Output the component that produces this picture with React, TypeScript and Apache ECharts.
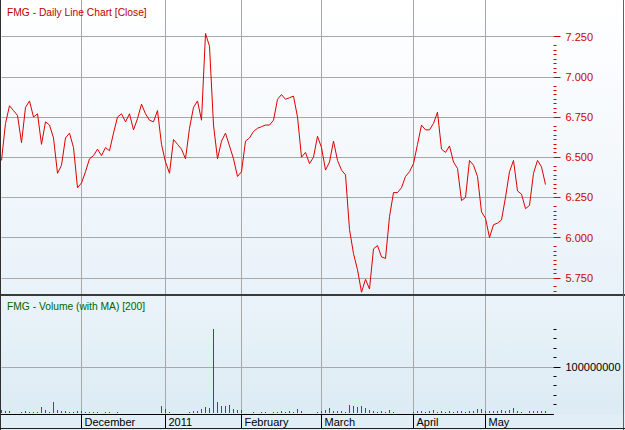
import React, { useEffect, useRef } from "react";
import * as echarts from "echarts";

// ---- data ----
const PRICES = [
  6.48, 6.71, 6.82, 6.79, 6.76, 6.59, 6.81, 6.85, 6.75, 6.77,
  6.58, 6.72, 6.70, 6.62, 6.40, 6.45, 6.62, 6.65, 6.56, 6.31,
  6.34, 6.41, 6.49, 6.51, 6.55, 6.51, 6.56, 6.54, 6.65, 6.75,
  6.77, 6.72, 6.77, 6.67, 6.74, 6.83, 6.77, 6.73, 6.72, 6.79,
  6.58, 6.47, 6.40, 6.61, 6.58, 6.55, 6.49, 6.68, 6.81, 6.85,
  6.73, 7.27, 7.19, 6.70, 6.49, 6.60, 6.65, 6.57, 6.49, 6.38,
  6.41, 6.60, 6.62, 6.66, 6.68, 6.69, 6.70, 6.70, 6.73, 6.86,
  6.89, 6.86, 6.87, 6.88, 6.75, 6.50, 6.53, 6.46, 6.50, 6.63,
  6.56, 6.42, 6.47, 6.60, 6.48, 6.42, 6.39, 6.05, 5.90, 5.80,
  5.66, 5.74, 5.68, 5.93, 5.95, 5.88, 5.87, 6.13, 6.28, 6.28,
  6.31, 6.38, 6.41, 6.46, 6.58, 6.70, 6.67, 6.67, 6.71, 6.78,
  6.55, 6.53, 6.57, 6.47, 6.43, 6.23, 6.25, 6.48, 6.45, 6.38,
  6.16, 6.12, 6.00, 6.08, 6.09, 6.11, 6.25, 6.41, 6.48, 6.29,
  6.27, 6.18, 6.20, 6.40, 6.48, 6.44, 6.33,
];

// volume in millions of shares
const VOLUMES_M = [
  8.4, 6.3, 6.3, 2.1, 2.1, 4.2, 6.3, 4.2, 4.2, 4.2,
  14.7, 8.4, 4.2, 25.2, 8.4, 6.3, 6.3, 4.2, 4.2, 6.3,
  6.3, 4.2, 4.2, 4.2, 4.2, 2.1, 4.2, 4.2, 2.1, 4.2,
  2.1, 2.1, 2.1, 2.1, 2.1, 2.1, 2.1, 2.1, 2.1, 2.1,
  16.8, 10.5, 4.2, 2.1, 2.1, 2.1, 2.1, 4.2, 6.3, 6.3,
  10.5, 14.7, 12.6, 180, 25.2, 16.8, 16.8, 18.9, 10.5, 8.4,
  8.4, 2.1, 2.1, 4.2, 2.1, 4.2, 4.2, 2.1, 4.2, 4.2,
  6.3, 4.2, 6.3, 4.2, 10.5, 6.3, 2.1, 2.1, 2.1, 4.2,
  6.3, 8.4, 12.6, 6.3, 6.3, 6.3, 4.2, 18.9, 16.8, 14.7,
  16.8, 12.6, 8.4, 6.3, 4.2, 6.3, 4.2, 8.4, 4.2, 2.1,
  2.1, 2.1, 2.1, 4.2, 6.3, 6.3, 4.2, 6.3, 8.4, 4.2,
  6.3, 4.2, 6.3, 4.2, 6.3, 6.3, 4.2, 6.3, 6.3, 10.5,
  10.5, 6.3, 6.3, 6.3, 6.3, 8.4, 6.3, 8.4, 12.6, 6.3,
  4.2, 2.1, 6.3, 6.3, 6.3, 6.3, 6.3,
];

const PRICE_TICKS = [5.75, 6.0, 6.25, 6.5, 6.75, 7.0, 7.25];
const VOLUME_TICKS = [100];
const VOLUME_MINOR_TICKS = [20, 40, 60, 80, 120, 140, 160, 180];
const MONTH_NAMES = [
  "January", "February", "March", "April", "May", "June",
  "July", "August", "September", "October", "November", "December",
];
const HOLIDAYS = [
  "2010-12-27", "2010-12-28", "2011-01-03", "2011-01-26",
  "2011-04-22", "2011-04-25", "2011-04-26",
];
const N_CATEGORIES = 139;

function tradingDates(): string[] {
  const out: string[] = [];
  const d = new Date(Date.UTC(2010, 10, 3));
  while (out.length < N_CATEGORIES) {
    const wd = d.getUTCDay();
    const s = d.toISOString().slice(0, 10);
    if (wd !== 0 && wd !== 6 && HOLIDAYS.indexOf(s) < 0) out.push(s);
    d.setUTCDate(d.getUTCDate() + 1);
  }
  return out;
}

export default function App() {
  const ref = useRef<HTMLDivElement>(null);
  useEffect(() => {
    if (!ref.current) return;
    const chart = echarts.init(ref.current, undefined, { renderer: "svg" });
    const dates = tradingDates();
    const monthStart = (i: number) =>
      i > 0 && dates[i].slice(5, 7) !== dates[i - 1].slice(5, 7);

    const font = "Liberation Sans";
    const priceMin = 5.649;
    const priceMax = 7.478;
    const step = 0.25 / 9;
    const priceMinor: number[] = [];
    PRICE_TICKS.forEach((m) => {
      for (let k = 2; k <= 8; k++) {
        const v = m - k * step;
        if (v > priceMin) priceMinor.push(+v.toFixed(4));
      }
    });

    const gridLineColor = "#a8a8a8";
    const volumeData = VOLUMES_M.map((v, i) => [i, v]);

    chart.setOption({
      animation: false,
      backgroundColor: "#ffffff",
      graphic: [
        {
          type: "rect", z: -10, silent: true,
          shape: { x: 0, y: 0, width: 625, height: 294 },
          style: {
            fill: {
              type: "linear", x: 0, y: 0, x2: 0, y2: 1,
              colorStops: [
                { offset: 0, color: "#ffffff" },
                { offset: 1, color: "#e9f2f9" },
              ],
            },
          },
        },
        {
          type: "rect", z: -10, silent: true,
          shape: { x: 0, y: 296, width: 625, height: 118 },
          style: {
            fill: {
              type: "linear", x: 0, y: 0, x2: 0, y2: 1,
              colorStops: [
                { offset: 0, color: "#eaf3f9" },
                { offset: 1, color: "#dcebf4" },
              ],
            },
          },
        },
        {
          type: "rect", z: -10, silent: true,
          shape: { x: 0, y: 414, width: 625, height: 16 },
          style: { fill: "#e1eef6" },
        },
        {
          type: "rect", z: 5, silent: true,
          shape: { x: 0, y: 294, width: 625, height: 2 },
          style: { fill: "#3a3a3a" },
        },
        {
          type: "line", z: 5, silent: true,
          shape: { x1: 0.5, y1: 0, x2: 0.5, y2: 430 },
          style: { stroke: "#303030", lineWidth: 1 },
        },
        {
          type: "line", z: 5, silent: true,
          shape: { x1: 623.5, y1: 0, x2: 623.5, y2: 430 },
          style: { stroke: "#606060", lineWidth: 1 },
        },
        {
          type: "line", z: 5, silent: true,
          shape: { x1: 0, y1: 428.5, x2: 625, y2: 428.5 },
          style: { stroke: "#202020", lineWidth: 1 },
        },
        {
          type: "text", z: 6, silent: true, x: 7, y: 6, scaleX: 0.935,
          style: {
            text: "FMG - Daily Line Chart [Close]",
            fill: "#c00000", fontSize: 11, fontFamily: font,
            verticalAlign: "top",
          },
        },
        {
          type: "text", z: 6, silent: true, x: 7, y: 300, scaleX: 0.935,
          style: {
            text: "FMG - Volume (with MA) [200]",
            fill: "#006400", fontSize: 11, fontFamily: font,
            verticalAlign: "top",
          },
        },
      ],
      grid: [
        { left: 1.5, right: 71.5, top: 0, height: 294 },
        { left: 1.5, right: 71.5, top: 296, height: 118 },
      ],
      xAxis: [
        {
          type: "category", gridIndex: 0, data: dates, boundaryGap: false,
          axisLine: { show: false }, axisTick: { show: false },
          axisLabel: { show: false },
          splitLine: {
            show: true,
            interval: (i: number) => monthStart(i),
            lineStyle: { color: gridLineColor, width: 1 },
          },
        },
        {
          type: "category", gridIndex: 1, data: dates, boundaryGap: false,
          axisLine: { show: true, lineStyle: { color: "#000000", width: 1 } },
          axisTick: {
            show: true, length: 14,
            interval: (i: number) => monthStart(i),
            lineStyle: { color: "#000000", width: 1 },
          },
          axisLabel: {
            show: true,
            interval: (i: number) => monthStart(i),
            formatter: (v: string) => {
              const m = +v.slice(5, 7);
              return m === 1 ? v.slice(0, 4) : MONTH_NAMES[m - 1];
            },
            align: "left", margin: 2, padding: [0, 0, 0, 3],
            color: "#000000", fontSize: 11, fontFamily: font,
          },
          splitLine: {
            show: true,
            interval: (i: number) => monthStart(i),
            lineStyle: { color: gridLineColor, width: 1 },
          },
        },
      ],
      yAxis: [
        {
          type: "value", gridIndex: 0, position: "right",
          min: priceMin, max: priceMax,
          axisLine: { show: false },
          axisTick: {
            show: true, length: 7, customValues: PRICE_TICKS,
            lineStyle: { color: "#cc0000" },
          },
          axisLabel: {
            show: true, customValues: PRICE_TICKS, margin: 12,
            formatter: (v: number) => v.toFixed(3),
            color: "#cc0000", fontSize: 11, fontFamily: font,
          },
          splitLine: { show: true, lineStyle: { color: gridLineColor, width: 1 } },
        },
        {
          type: "value", gridIndex: 0, position: "right",
          min: priceMin, max: priceMax,
          axisLine: { show: false },
          axisTick: {
            show: true, length: 3, customValues: priceMinor,
            lineStyle: { color: "#cc0000" },
          },
          axisLabel: { show: false },
          splitLine: { show: false },
        },
        {
          type: "value", gridIndex: 1, position: "right",
          min: 0, max: 250,
          axisLine: { show: false },
          axisTick: {
            show: true, length: 7, customValues: VOLUME_TICKS,
            lineStyle: { color: "#000000" },
          },
          axisLabel: {
            show: true, customValues: VOLUME_TICKS, margin: 12,
            formatter: (v: number) => String(Math.round(v * 1000000)),
            color: "#000000", fontSize: 11, fontFamily: font,
          },
          splitLine: { show: true, lineStyle: { color: gridLineColor, width: 1 } },
        },
        {
          type: "value", gridIndex: 1, position: "right",
          min: 0, max: 250,
          axisLine: { show: false },
          axisTick: {
            show: true, length: 3, customValues: VOLUME_MINOR_TICKS,
            lineStyle: { color: "#000000" },
          },
          axisLabel: { show: false },
          splitLine: { show: false },
        },
      ],
      series: [
        {
          type: "line", xAxisIndex: 0, yAxisIndex: 0, data: PRICES,
          symbol: "none", lineStyle: { color: "#dd0000", width: 1 },
          itemStyle: { color: "#dd0000" },
        },
        {
          type: "custom", xAxisIndex: 1, yAxisIndex: 2, data: volumeData,
          encode: { x: 0, y: 1 },
          renderItem: (params: any, api: any) => {
            const top = api.coord([api.value(0), api.value(1)]);
            const base = api.coord([api.value(0), 0]);
            const x = Math.floor(top[0]) + 0.5;
            const y0 = Math.round(top[1]);
            const y1 = Math.round(base[1]) - 1;
            return {
              type: "line",
              shape: { x1: x, y1: y0, x2: x, y2: y1 },
              style: { stroke: "#008000", lineWidth: 1, fill: null },
            };
          },
        },
      ],
    });
    return () => chart.dispose();
  }, []);
  return (
    <div
      ref={ref}
      style={{ position: "absolute", left: 0, top: 0, width: 625, height: 430 }}
    />
  );
}
